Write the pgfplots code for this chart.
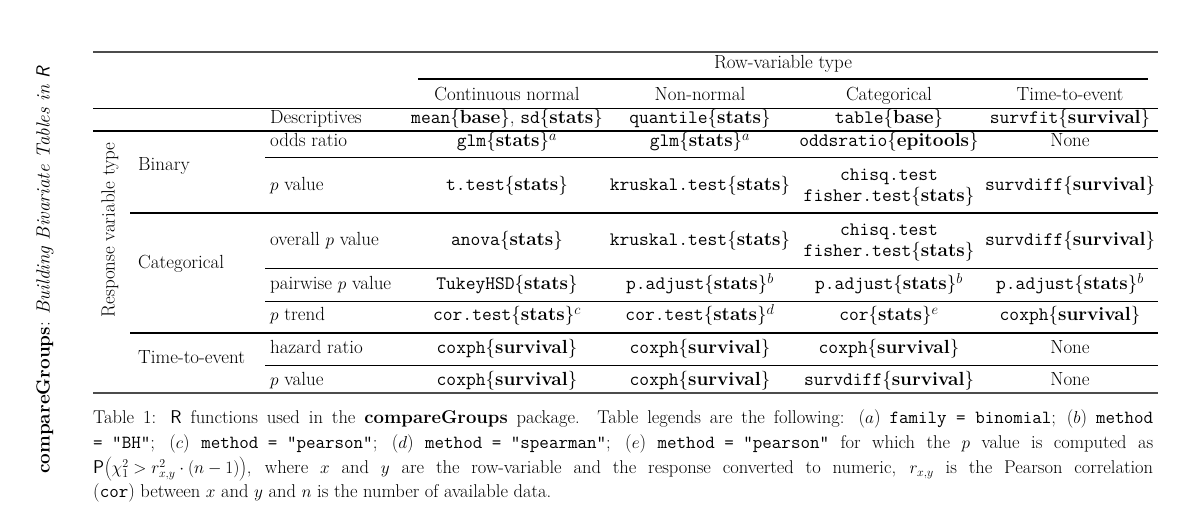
\documentclass[border=0pt]{standalone}
\usepackage{fontspec}
\usepackage{pgfplots}
\pgfplotsset{compat=1.18}
\newcommand{\f}[2]{\texttt{#1}\{\textbf{#2}\}}
\begin{document}
\begin{tikzpicture}[every node/.style={font=\fontsize{19}{22}\selectfont,inner sep=0pt,text height=13pt,text depth=4pt}]
\begin{axis}[width=1179pt,height=509pt,scale only axis,xmin=0,xmax=1179,ymin=0,ymax=509,
  y dir=reverse,axis lines=none,clip=false]
\addplot[draw=none] coordinates {(0,0)(1179,509)};
% rules
\draw[line width=1.1pt,black!70] (axis cs:93,52)--(axis cs:1158,52);
\draw[line width=1.1pt] (axis cs:418,79)--(axis cs:1148,79);
\draw[line width=0.5pt] (axis cs:93,108)--(axis cs:1158,108);
\draw[line width=1.1pt] (axis cs:93,131)--(axis cs:1158,131);
\draw[line width=0.5pt] (axis cs:265,157)--(axis cs:1158,157);
\draw[line width=1.1pt] (axis cs:130,213)--(axis cs:1158,213);
\draw[line width=0.5pt] (axis cs:265,268)--(axis cs:1158,268);
\draw[line width=0.5pt] (axis cs:265,301)--(axis cs:1158,301);
\draw[line width=1.1pt] (axis cs:130,333)--(axis cs:1158,333);
\draw[line width=0.5pt] (axis cs:265,365)--(axis cs:1158,365);
\draw[line width=1.1pt,black!70] (axis cs:93,393)--(axis cs:1158,393);
% headers
\node at (axis cs:783,64) {Row-variable type};
\node at (axis cs:507,96) {Continuous normal};
\node at (axis cs:700,96) {Non-normal};
\node at (axis cs:889,96) {Categorical};
\node at (axis cs:1070,96) {Time-to-event};
% left labels
\node[rotate=90] at (axis cs:110,230) {Response variable type};
\node[anchor=west] at (axis cs:138,166) {Binary};
\node[anchor=west] at (axis cs:138,264) {Categorical};
\node[anchor=west] at (axis cs:138,359) {Time-to-event};
\node[anchor=west] at (axis cs:270,119) {Descriptives};
\node[anchor=west] at (axis cs:270,142) {odds ratio};
\node[anchor=west] at (axis cs:270,186) {$p$ value};
\node[anchor=west] at (axis cs:270,241) {overall $p$ value};
\node[anchor=west] at (axis cs:270,285) {pairwise $p$ value};
\node[anchor=west] at (axis cs:270,316) {$p$ trend};
\node[anchor=west] at (axis cs:270,349) {hazard ratio};
\node[anchor=west] at (axis cs:270,381) {$p$ value};
% Descriptives
\node at (axis cs:507,119) {\texttt{mean}\{\textbf{base}\}, \texttt{sd}\{\textbf{stats}\}};
\node at (axis cs:700,119) {\f{quantile}{stats}};
\node at (axis cs:889,119) {\f{table}{base}};
\node at (axis cs:1070,119) {\f{survfit}{survival}};
% odds ratio
\node at (axis cs:507,142) {\f{glm}{stats}$^a$};
\node at (axis cs:700,142) {\f{glm}{stats}$^a$};
\node at (axis cs:889,142) {\f{oddsratio}{epitools}};
\node at (axis cs:1070,142) {None};
% p value binary
\node at (axis cs:507,186) {\f{t.test}{stats}};
\node at (axis cs:700,186) {\f{kruskal.test}{stats}};
\node at (axis cs:889,176) {\texttt{chisq.test}};
\node at (axis cs:889,197) {\f{fisher.test}{stats}};
\node at (axis cs:1070,186) {\f{survdiff}{survival}};
% overall
\node at (axis cs:507,241) {\f{anova}{stats}};
\node at (axis cs:700,241) {\f{kruskal.test}{stats}};
\node at (axis cs:889,231) {\texttt{chisq.test}};
\node at (axis cs:889,252) {\f{fisher.test}{stats}};
\node at (axis cs:1070,241) {\f{survdiff}{survival}};
% pairwise
\node at (axis cs:507,285) {\f{TukeyHSD}{stats}};
\node at (axis cs:700,285) {\f{p.adjust}{stats}$^b$};
\node at (axis cs:889,285) {\f{p.adjust}{stats}$^b$};
\node at (axis cs:1070,285) {\f{p.adjust}{stats}$^b$};
% trend
\node at (axis cs:507,316) {\f{cor.test}{stats}$^c$};
\node at (axis cs:700,316) {\f{cor.test}{stats}$^d$};
\node at (axis cs:889,316) {\f{cor}{stats}$^e$};
\node at (axis cs:1070,316) {\f{coxph}{survival}};
% hazard
\node at (axis cs:507,349) {\f{coxph}{survival}};
\node at (axis cs:700,349) {\f{coxph}{survival}};
\node at (axis cs:889,349) {\f{coxph}{survival}};
\node at (axis cs:1070,349) {None};
\node at (axis cs:507,381) {\f{coxph}{survival}};
\node at (axis cs:700,381) {\f{coxph}{survival}};
\node at (axis cs:889,381) {\f{survdiff}{survival}};
\node at (axis cs:1070,381) {None};
% caption
\node[anchor=west,font=\fontsize{18.5}{20}\selectfont] at (axis cs:93,419) {\makebox[1060pt][s]{Table 1: \textsf{R} functions used in the \textbf{compareGroups} package. Table legends are the following: ($a$) \texttt{family = binomial}; ($b$) \texttt{method}}};
\node[anchor=west,font=\fontsize{18.5}{20}\selectfont] at (axis cs:93,444) {\makebox[1060pt][s]{\texttt{= "BH"}; ($c$) \texttt{method = "pearson"}; ($d$) \texttt{method = "spearman"}; ($e$) \texttt{method = "pearson"} for which the $p$ value is computed as}};
\node[anchor=west,font=\fontsize{18.5}{20}\selectfont] at (axis cs:93,469) {\makebox[1060pt][s]{\textsf{P}$\left(\chi^2_1 > r^2_{x,y}\cdot(n-1)\right)$, where $x$ and $y$ are the row-variable and the response converted to numeric, $r_{x,y}$ is the Pearson correlation}};
\node[anchor=west,font=\fontsize{18.5}{20}\selectfont] at (axis cs:93,493) {(\texttt{cor}) between $x$ and $y$ and $n$ is the number of available data.};
\node[rotate=90,font=\fontsize{19}{20}\selectfont] at (axis cs:45,270) {\textbf{compareGroups}: \textit{Building Bivariate Tables in} \textsf{\textit{R}}};
\end{axis}
\end{tikzpicture}
\end{document}
